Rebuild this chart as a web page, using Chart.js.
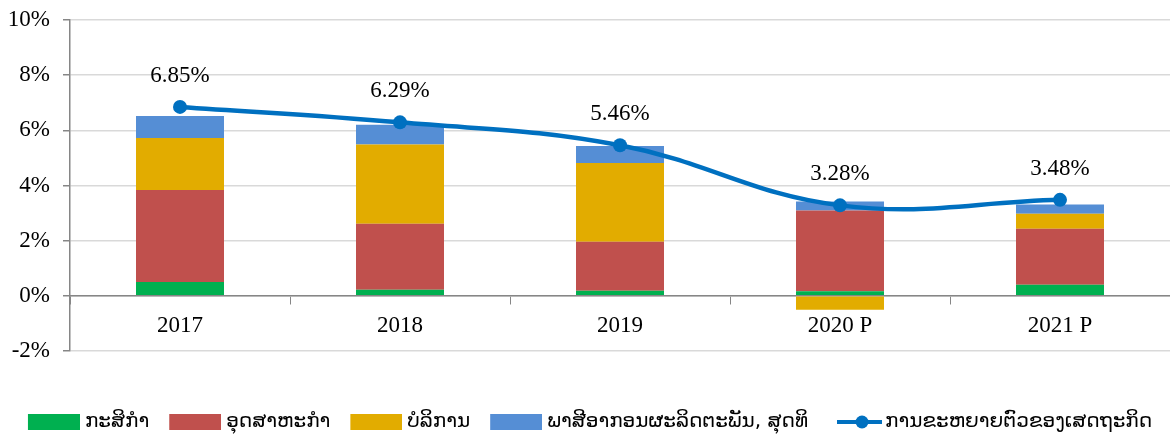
<!DOCTYPE html>
<html><head><meta charset="utf-8">
<script src="https://cdn.jsdelivr.net/npm/chart.js@4.4.1/dist/chart.umd.min.js"></script>
<style>html,body{margin:0;padding:0;background:#fff;overflow:hidden;}#wrap{width:1170px;height:434px;overflow:hidden;}</style>
</head><body><div id="wrap"><canvas id="c" width="1177" height="442"></canvas></div>
<script>
const categories = ['2017', '2018', '2019', '2020 P', '2021 P'];
const agriculture = [0.50, 0.22, 0.18, 0.17, 0.40];
const industry = [3.34, 2.39, 1.78, 2.92, 2.03];
const services = [1.88, 2.88, 2.86, -0.50, 0.55];
const taxes = [0.80, 0.71, 0.61, 0.33, 0.33];
const gdpGrowth = [6.85, 6.29, 5.46, 3.28, 3.48];
const seriesNames = ['ກະສິກຳ', 'ອຸດສາຫະກຳ', 'ບໍລິການ', 'ພາສີອາກອນຜະລິດຕະພັນ, ສຸດທິ', 'ການຂະຫຍາຍຕົວຂອງເສດຖະກິດ'];
const yTicks = [-2, 0, 2, 4, 6, 8, 10];

const colors = ['#00B050', '#C0504D', '#E2AC00', '#558ED5', '#0070C0'];

function boxImg(color) {
  const c = document.createElement('canvas');
  c.width = 67; c.height = 16;
  const x = c.getContext('2d');
  x.fillStyle = color; x.fillRect(15, 0, 52, 16);
  return c;
}
function lineImg(color) {
  const c = document.createElement('canvas');
  c.width = 71; c.height = 16;
  const x = c.getContext('2d');
  x.strokeStyle = color; x.lineWidth = 4;
  x.beginPath(); x.moveTo(26, 8); x.lineTo(71, 8); x.stroke();
  x.fillStyle = color; x.beginPath(); x.arc(51, 8, 6.5, 0, Math.PI * 2); x.fill();
  return c;
}
const legendImgs = [boxImg(colors[0]), boxImg(colors[1]), boxImg(colors[2]), boxImg(colors[3]), lineImg(colors[4])];

const labelPlugin = {
  id: 'pointLabels',
  afterDatasetsDraw(chart) {
    const meta = chart.getDatasetMeta(4);
    const ctx = chart.ctx;
    ctx.save();
    ctx.font = '23px "Liberation Serif"';
    ctx.fillStyle = '#000';
    ctx.textAlign = 'center';
    ctx.textBaseline = 'middle';
    meta.data.forEach((pt, i) => {
      ctx.fillText(gdpGrowth[i].toFixed(2) + '%', pt.x, pt.y - 31);
    });
    ctx.restore();
  }
};

const barBase = { type: 'bar', stack: 'gdp', order: 2, categoryPercentage: 0.8, barPercentage: 0.5, borderWidth: 0 };

new Chart(document.getElementById('c'), {
  data: {
    labels: categories,
    datasets: [
      Object.assign({}, barBase, { label: seriesNames[0], data: agriculture, backgroundColor: colors[0] }),
      Object.assign({}, barBase, { label: seriesNames[1], data: industry, backgroundColor: colors[1] }),
      Object.assign({}, barBase, { label: seriesNames[2], data: services, backgroundColor: colors[2] }),
      Object.assign({}, barBase, { label: seriesNames[3], data: taxes, backgroundColor: colors[3] }),
      { type: 'line', label: seriesNames[4], data: gdpGrowth, stack: 'line', order: 1,
        borderColor: colors[4], backgroundColor: colors[4], borderWidth: 4.5, tension: 0.4,
        pointRadius: 7, pointHoverRadius: 7, pointBackgroundColor: colors[4], pointBorderWidth: 0 }
    ]
  },
  options: {
    responsive: false,
    animation: false,
    layout: { padding: { top: 20, right: 7, bottom: 0, left: 0 } },
    scales: {
      x: {
        position: { y: 0 },
        stacked: true,
        grid: { offset: true, drawOnChartArea: false, drawTicks: true, tickLength: 8, color: '#868686' },
        border: { color: '#868686', width: 1.5 },
        ticks: { color: '#000', font: { family: 'Liberation Serif', size: 23 }, padding: 8 }
      },
      y: {
        stacked: true,
        min: -2, max: 10,
        afterBuildTicks(axis) { axis.ticks = yTicks.map(v => ({ value: v })); },
        afterFit(axis) { axis.width = 70; axis.paddingTop = 0; axis.paddingBottom = 0; },
        grid: { color: '#D9D9D9', lineWidth: 1.5, tickLength: 7, tickColor: '#868686' },
        border: { color: '#868686', width: 1.5 },
        ticks: { color: '#000', font: { family: 'Liberation Serif', size: 23 }, padding: 13,
          callback: v => v + '%' }
      }
    },
    plugins: {
      tooltip: { enabled: false },
      legend: {
        position: 'bottom',
        title: { display: true, text: ' ', font: { size: 10, lineHeight: 1.2 }, padding: { top: 20, bottom: 19 } },
        labels: {
          usePointStyle: true,
          pointStyleWidth: 57,
          padding: 10,
          color: '#000',
          font: { family: 'DejaVu Sans', size: 20 },
          sort: (a, b) => a.datasetIndex - b.datasetIndex,
          generateLabels(chart) {
            const items = Chart.defaults.plugins.legend.labels.generateLabels(chart);
            items.forEach(it => { it.pointStyle = legendImgs[it.datasetIndex]; });
            return items;
          }
        }
      }
    }
  },
  plugins: [labelPlugin]
});
</script>
</body></html>
